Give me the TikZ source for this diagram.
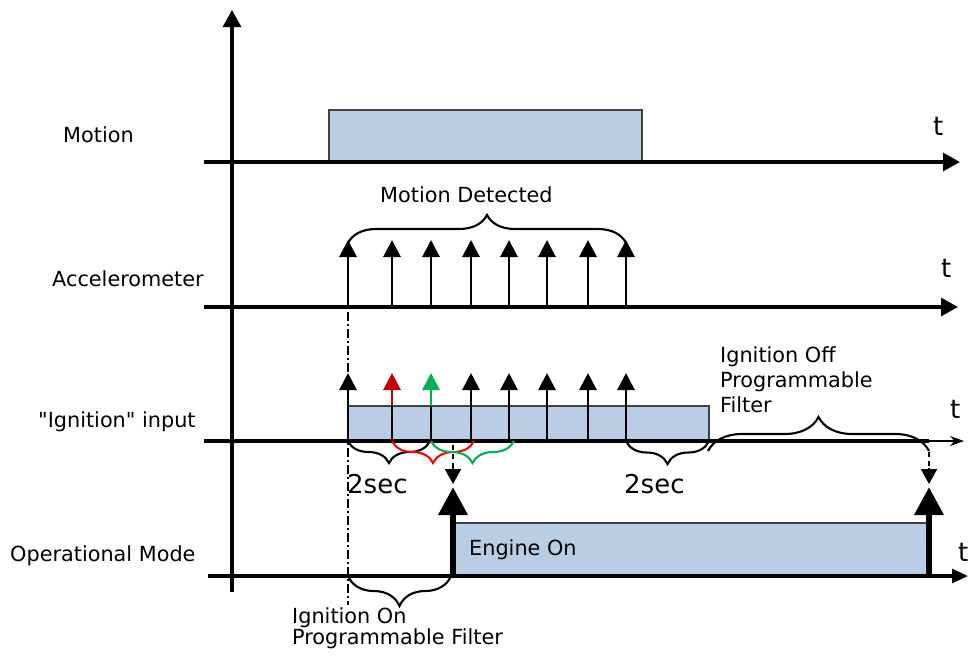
\documentclass[tikz,border=0pt]{standalone}
\usepackage{fontspec}
\setmainfont{DejaVu Sans}[Ligatures=TeXOff]
\usetikzlibrary{arrows.meta,decorations.pathreplacing}
\definecolor{boxfill}{RGB}{185,205,229}
\definecolor{darkred}{RGB}{192,0,0}
\definecolor{brred}{RGB}{255,0,0}
\definecolor{ofgreen}{RGB}{0,176,80}
\begin{document}
\begin{tikzpicture}[x=1pt,y=-1pt,
  axis/.style={line width=3.1pt},
  axisarrow/.style={axis,-{Triangle[width=18pt,length=17pt]}},
  impulse/.style={line width=2.9pt,-{Triangle[width=17pt,length=17pt]}},
  divider/.style={line width=2.4pt},
  sigbox/.style={draw=black!75,line width=1.7pt,fill=boxfill},
  lbl/.style={font=\fontsize{20.8}{24}\selectfont,inner sep=0pt,anchor=base west},
  big/.style={font=\fontsize{26}{30}\selectfont,inner sep=0pt,anchor=base west},
  braceup/.style={decorate,decoration={brace,amplitude=#1pt},line width=2.1pt},
  bracedn/.style={decorate,decoration={brace,mirror,amplitude=#1pt},line width=2.1pt},
  thickarrow/.style={line width=6.5pt,-{Triangle[width=28pt,length=28pt]}},
  dashpart/.style={line width=2pt,dash pattern=on 5pt off 4pt},
  smallhead/.style={line width=2pt,-{Triangle[width=16pt,length=15pt]}}
]
\useasboundingbox (0,0) rectangle (968,657);

% boxes
\draw[sigbox] (329,110) rectangle (642,162);
\draw[sigbox] (348,406) rectangle (709,441);
\draw[sigbox] (453,523) rectangle (929,576);

% axes
\draw[axisarrow] (232,592) -- (232,10);
\draw[axisarrow] (204,162) -- (960,162);
\draw[axisarrow] (204,307) -- (958,307);
\draw[axis] (204,441) -- (929,441);
\draw[line width=1.2pt,-{Stealth[width=10pt,length=14pt]}] (929,441) -- (964,441);
\draw[axis,-{Triangle[width=14pt,length=16pt]}] (208,576) -- (968,576);

% dash-dot reference line
\draw[line width=1.5pt,dash pattern=on 9pt off 3pt on 2pt off 3pt] (348,312) -- (348,605);

% accelerometer impulses
\foreach \x in {348,392,431,471,509,547,588,626}
  \draw[impulse] (\x,307) -- (\x,240);

% ignition impulses
\foreach \x in {392,431,471,509,547,588,626}
  \draw[divider] (\x,406) -- (\x,441);
\draw[impulse] (348,441) -- (348,373);
\draw[impulse,darkred] (392,406) -- (392,373);
\draw[impulse,ofgreen] (431,406) -- (431,373);
\foreach \x in {471,509,547,588,626}
  \draw[impulse] (\x,406) -- (\x,373);

% braces
\draw[braceup=28] (348,243) -- (626,243);
\draw[bracedn=22] (348,441) -- (430,441);
\draw[bracedn=22,brred] (392,441) -- (474,441);
\draw[bracedn=22,ofgreen] (431,441) -- (514,441);
\draw[bracedn=23] (626,441) -- (709,441);
\draw[braceup=34] (708,451) -- (929,451);
\draw[bracedn=30] (348,576) -- (451,576);

% operational mode transitions
\draw[dashpart] (453,445) -- (453,471);
\draw[smallhead] (453,468) -- (453,484);
\draw[thickarrow] (453,578) -- (453,487);
\draw[dashpart] (929,452) -- (929,471);
\draw[smallhead] (929,468) -- (929,484);
\draw[thickarrow] (929,578) -- (929,487);

% labels
\node[lbl] (lmotion) at (63,142.5) {Motion};
\node[lbl] (lacc) at (52,286) {Accelerometer};
\node[lbl] (lign) at (38,427) {"Ignition" input};
\node[lbl] (lop) at (10,561) {Operational Mode};
\node[lbl] (leng) at (469,555) {Engine On};
\node[lbl] (ldet) at (380,202) {Motion Detected};
\node[lbl] (loff1) at (720,362) {Ignition Off};
\node[lbl] (loff2) at (720,387) {Programmable};
\node[lbl] (loff3) at (720,412) {Filter};
\node[lbl] (lon1) at (292,623) {Ignition On};
\node[lbl] (lon2) at (292,644) {Programmable Filter};
\node[big] (s1) at (347,493) {2sec};
\node[big] (s2) at (624,493) {2sec};
\node[big] (t1) at (933,135) {t};
\node[big] (t2) at (941,277) {t};
\node[big] (t3) at (950,418) {t};
\node[big] (t4) at (958,561) {t};
\end{tikzpicture}
\end{document}
